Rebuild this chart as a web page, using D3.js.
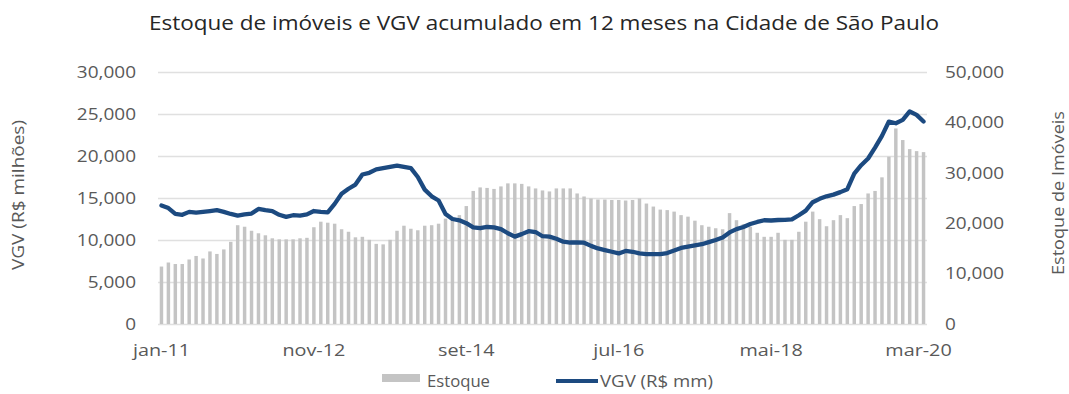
<!DOCTYPE html>
<html>
<head>
<meta charset="utf-8">
<script src="https://cdn.jsdelivr.net/npm/d3@7"></script>
<style>
  html, body { margin: 0; padding: 0; background: #fff; }
  svg { display: block; font-family: "Open Sans", "Noto Sans", sans-serif; }
</style>
</head>
<body>
<svg id="chart" width="1069" height="394"></svg>
<script>
// Month abbreviations (pt-BR) and the span of the series: jan/2011 to mar/2020
const monthNames = ["jan","fev","mar","abr","mai","jun","jul","ago","set","out","nov","dez"];
const startYear = 2011;
const monthCount = 111;
const categories = d3.range(monthCount).map(i =>
  monthNames[i % 12] + "-" + String((startYear + Math.floor(i / 12)) % 100).padStart(2, "0"));

// Estoque de imóveis (unidades) – right axis
const estoque = [
  11400, 12200, 11900, 11900, 12800, 13500, 13000, 14400, 13900, 14800, 16300, 19600,
  19300, 18500, 18000, 17600, 17000, 16800, 16800, 16800, 17000, 17100, 19200, 20300,
  20100, 19900, 18800, 18300, 17200, 17300, 16700, 15900, 15800, 16700, 18500, 19500,
  18900, 18600, 19500, 19600, 19900, 20900, 21000, 21600, 23400, 26400, 27100, 27000,
  26800, 27300, 27900, 27900, 27800, 27300, 26900, 26500, 26300, 26900, 26900, 26900,
  25900, 25300, 24900, 24700, 24700, 24600, 24600, 24500, 24600, 24900, 23900, 23300,
  22700, 22600, 22300, 21600, 21300, 20500, 19600, 19300, 19000, 18800, 22000, 20600,
  19800, 19300, 18100, 17300, 17300, 18100, 16700, 16700, 18300, 20300, 22300, 20800,
  19400, 20600, 21600, 21000, 23400, 23800, 25900, 26400, 29100, 33200, 38800, 36500,
  34700, 34300, 34100
];

// VGV acumulado em 12 meses (R$ milhões) – left axis
const vgv = [
  14100, 13800, 13100, 13000, 13350, 13250, 13350, 13450, 13550, 13350, 13100, 12900,
  13050, 13150, 13700, 13550, 13450, 13000, 12750, 12950, 12900, 13050, 13450, 13350,
  13300, 14300, 15500, 16100, 16600, 17800, 18000, 18400, 18550, 18700, 18850, 18700,
  18550, 17500, 16000, 15200, 14700, 13100, 12500, 12350, 12000, 11500, 11400, 11550,
  11500, 11300, 10800, 10400, 10700, 11050, 10950, 10450, 10400, 10150, 9800, 9700,
  9720, 9680, 9300, 9000, 8800, 8600, 8400, 8700, 8600, 8400, 8330, 8330,
  8330, 8450, 8750, 9050, 9200, 9350, 9500, 9750, 10000, 10300, 10900, 11300,
  11550, 11900, 12150, 12350, 12320, 12380, 12400, 12450, 12950, 13500, 14500, 14900,
  15200, 15400, 15700, 16050, 17900, 18900, 19700, 21000, 22400, 24100, 23900, 24300,
  25300, 24900, 24100
];

const xTickLabels = ["jan-11", "nov-12", "set-14", "jul-16", "mai-18", "mar-20"];
const leftTicks = [0, 5000, 10000, 15000, 20000, 25000, 30000];
const rightTicks = [0, 10000, 20000, 30000, 40000, 50000];

const plot = { left: 158, right: 927, top: 72, bottom: 324 };
const svg = d3.select("#chart");
const fmt = d3.format(",");
const tickColor = "#595959";
const lineColor = "#1c4a80";
const barColor = "#c4c4c4";

// Widen a text element horizontally (the typeface here runs wide)
function widen(sel, factor) {
  sel.each(function () {
    const w = this.getComputedTextLength();
    d3.select(this).attr("textLength", w * factor).attr("lengthAdjust", "spacingAndGlyphs");
  });
}
function fitTo(sel, width) {
  sel.attr("textLength", width).attr("lengthAdjust", "spacingAndGlyphs");
}

const x = d3.scaleBand().domain(categories)
  .range([plot.left, plot.right]).paddingInner(0.5).paddingOuter(0.25);
const yL = d3.scaleLinear().domain([0, 30000]).range([plot.bottom, plot.top]);
const yR = d3.scaleLinear().domain([0, 50000]).range([plot.bottom, plot.top]);

// Title
svg.append("text")
  .attr("x", 544).attr("y", 30)
  .attr("text-anchor", "middle")
  .attr("font-size", 20)
  .attr("fill", "#262626")
  .text("Estoque de imóveis e VGV acumulado em 12 meses na Cidade de São Paulo")
  .call(fitTo, 790);

// Horizontal gridlines (left axis steps)
svg.append("g")
  .selectAll("line")
  .data(leftTicks)
  .join("line")
  .attr("x1", plot.left).attr("x2", plot.right)
  .attr("y1", d => Math.round(yL(d)) + 0.5).attr("y2", d => Math.round(yL(d)) + 0.5)
  .attr("stroke", "#e0e0e0").attr("stroke-width", 1.3);

// Estoque bars
svg.append("g")
  .selectAll("rect")
  .data(categories)
  .join("rect")
  .attr("x", d => x(d))
  .attr("width", x.bandwidth())
  .attr("y", (d, i) => yR(estoque[i]))
  .attr("height", (d, i) => yR(0) - yR(estoque[i]))
  .attr("fill", barColor);

// VGV line
const line = d3.line()
  .x((d, i) => x(categories[i]) + x.bandwidth() / 2)
  .y(d => yL(d));
svg.append("path")
  .datum(vgv)
  .attr("d", line)
  .attr("fill", "none")
  .attr("stroke", lineColor)
  .attr("stroke-width", 4.3)
  .attr("stroke-linejoin", "round")
  .attr("stroke-linecap", "round");

// Left axis
const gL = svg.append("g")
  .attr("transform", `translate(${plot.left - 22},0)`)
  .call(d3.axisLeft(yL).tickValues(leftTicks).tickFormat(fmt).tickSize(0).tickPadding(0));
gL.select(".domain").remove();
gL.selectAll("text").attr("font-size", 16.5).attr("fill", tickColor)
  .attr("font-family", "Open Sans, sans-serif").call(widen, 1.15);

// Right axis
const gR = svg.append("g")
  .attr("transform", `translate(${plot.right + 18},0)`)
  .call(d3.axisRight(yR).tickValues(rightTicks).tickFormat(fmt).tickSize(0).tickPadding(0));
gR.select(".domain").remove();
gR.selectAll("text").attr("font-size", 16.5).attr("fill", tickColor)
  .attr("font-family", "Open Sans, sans-serif").call(widen, 1.15);

// Bottom axis (selected months)
const gX = svg.append("g")
  .attr("transform", `translate(0,${plot.bottom + 20})`)
  .call(d3.axisBottom(x).tickValues(xTickLabels).tickSize(0).tickPadding(0));
gX.select(".domain").remove();
gX.selectAll("text").attr("font-size", 16.5).attr("fill", tickColor)
  .attr("font-family", "Open Sans, sans-serif").call(widen, 1.2);
gX.selectAll("text").filter(d => d === "mar-20").attr("dx", -5);

// Axis titles
svg.append("text")
  .attr("transform", "translate(24,195) rotate(-90)")
  .attr("text-anchor", "middle")
  .attr("font-size", 16.5).attr("fill", tickColor)
  .text("VGV (R$ milhões)")
  .call(fitTo, 150);
svg.append("text")
  .attr("transform", "translate(1064,193) rotate(-90)")
  .attr("text-anchor", "middle")
  .attr("font-size", 16.5).attr("fill", tickColor)
  .text("Estoque de Imóveis")
  .call(fitTo, 164);

// Legend
const lg = svg.append("g");
lg.append("rect").attr("x", 382).attr("y", 374).attr("width", 38).attr("height", 8).attr("fill", barColor);
lg.append("text").attr("x", 427).attr("y", 387).attr("font-size", 16.5).attr("fill", tickColor)
  .text("Estoque").call(fitTo, 63);
lg.append("line").attr("x1", 556).attr("x2", 598).attr("y1", 381).attr("y2", 381)
  .attr("stroke", lineColor).attr("stroke-width", 4);
lg.append("text").attr("x", 600).attr("y", 387).attr("font-size", 16.5).attr("fill", tickColor)
  .text("VGV (R$ mm)").call(fitTo, 113);
</script>
</body>
</html>
